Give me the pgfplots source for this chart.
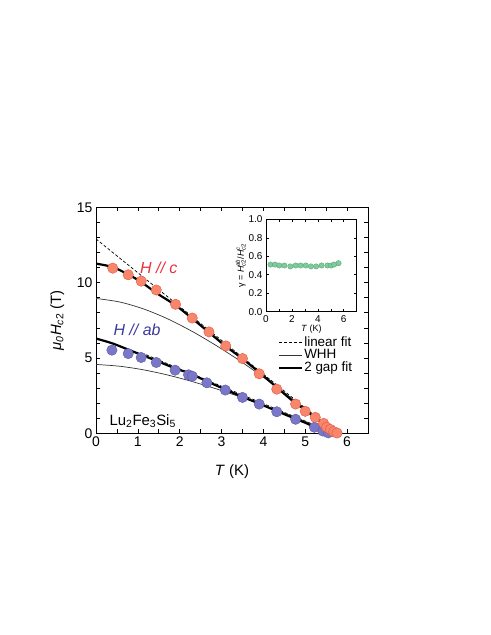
\documentclass[border=0pt]{standalone}
\usepackage{amsmath}
\usepackage{fontspec}
\setmainfont{Liberation Sans}
\usepackage{pgfplots}
\pgfplotsset{compat=1.18}

\definecolor{cfill}{HTML}{F7876C}
\definecolor{cedge}{HTML}{E5553E}
\definecolor{abfill}{HTML}{7A77C6}
\definecolor{abedge}{HTML}{5B58AC}
\definecolor{gfill}{HTML}{7FCB9B}
\definecolor{gedge}{HTML}{4E9E6C}
\definecolor{ctext}{HTML}{E8303A}
\definecolor{abtext}{HTML}{3B3A9C}

\begin{document}
\begin{tikzpicture}
\useasboundingbox (0,0) rectangle (491bp,635bp);

\begin{axis}[
  at={(96bp,201.7bp)}, anchor=south west,
  scale only axis, width=272bp, height=226bp,
  xmin=0, xmax=6.5, ymin=0, ymax=15,
  xtick={0,1,2,3,4,5,6}, minor x tick num=1,
  ytick={0,5,10,15}, minor y tick num=4,
  major tick length=4bp, minor tick length=4bp,
  every tick/.style={black, line width=0.6bp},
  axis line style={line width=0.8bp},
  tick label style={font=\fontsize{14}{16}\selectfont},
  /pgf/number format/assume math mode=true,
  xlabel={\textit{T} (K)},
  ylabel={\textit{μ}\textsubscript{\textit{0}}\textit{H}\textsubscript{\textit{c}2} (T)},
  label style={font=\fontsize{15}{17}\selectfont},
  xlabel style={yshift=-11bp},
  ylabel style={yshift=6bp},
  legend style={draw=none, fill=none, at={(0.668,0.435)}, anchor=north west,
    font=\fontsize{13.5}{16}\selectfont, inner sep=0pt, row sep=-0.5bp,
    nodes={inner sep=1.2bp}},
  legend cell align=left,
  legend image code/.code={\draw[#1] (0bp,0bp) -- (23bp,0bp);},
]
\addlegendimage{black, line width=0.7bp, dash pattern=on 3bp off 2bp}
\addlegendentry{linear fit}
\addlegendimage{black!80, line width=0.7bp}
\addlegendentry{WHH}
\addlegendimage{black, line width=2.2bp}
\addlegendentry{2 gap fit}

% linear fits
\addplot[forget plot, black, line width=0.7bp, dash pattern=on 3bp off 2bp]
  coordinates {(0,12.9) (5.75,0)};
\addplot[forget plot, black, line width=0.7bp, dash pattern=on 3bp off 2bp]
  coordinates {(1.2,5.21) (5.7,0)};

% WHH
\addplot[forget plot, black!80, line width=0.7bp, smooth] coordinates {
(0,8.95) (0.575,8.71) (1.15,8.24) (1.725,7.58) (2.3,6.76) (2.875,5.82)
(3.45,4.79) (4.025,3.67) (4.6,2.49) (5.175,1.27) (5.75,0)};
\addplot[forget plot, black!80, line width=0.7bp, smooth] coordinates {
(0,4.57) (0.57,4.45) (1.14,4.21) (1.71,3.87) (2.28,3.45) (2.85,2.97)
(3.42,2.44) (3.99,1.87) (4.56,1.27) (5.13,0.65) (5.7,0)};

% 2 gap fits
\addplot[forget plot, black, line width=2.2bp, smooth] coordinates {
(0,11.26) (0.4,11.03) (0.8,10.5) (1.1,10.0) (1.45,9.3) (1.9,8.5)
(2.3,7.62) (2.7,6.7) (3.1,5.78) (3.5,4.95) (3.9,4.05) (4.3,3.1)
(4.7,2.15) (5.0,1.55) (5.25,1.02) (5.45,0.6) (5.6,0.28) (5.72,0.08) (5.8,0)};
\addplot[forget plot, black, line width=2.2bp, smooth] coordinates {
(0,6.29) (0.4,5.96) (0.8,5.52) (1.45,4.81) (1.9,4.3) (2.25,3.97)
(2.65,3.45) (3.1,2.9) (3.5,2.42) (3.9,1.97) (4.3,1.5) (4.75,0.98)
(5.0,0.7) (5.2,0.45) (5.4,0.2) (5.52,0.05) (5.58,0)};

% data H // ab
\addplot[forget plot, only marks, mark=*, mark size=5.2bp,
  mark options={fill=abfill, draw=abedge, line width=0.4bp}] coordinates {
(0.38,5.52) (0.77,5.29) (1.08,5.03) (1.44,4.70) (1.89,4.19) (2.21,3.88)
(2.30,3.79) (2.65,3.35) (3.09,2.87) (3.50,2.38) (3.90,1.94) (4.32,1.43)
(4.77,0.93) (5.22,0.40) (5.42,0.15) (5.55,0.03)};

% data H // c
\addplot[forget plot, only marks, mark=*, mark size=5.2bp,
  mark options={fill=cfill, draw=cedge, line width=0.4bp}] coordinates {
(0.40,10.96) (0.77,10.52) (1.08,10.10) (1.44,9.51) (1.90,8.56) (2.30,7.65)
(2.70,6.73) (3.10,5.80) (3.50,4.96) (3.90,3.95) (4.32,2.93) (4.77,1.94)
(5.00,1.46) (5.24,1.06) (5.44,0.66) (5.51,0.40) (5.60,0.26) (5.68,0.11)
(5.76,0.02)};

\node[text=ctext, font=\fontsize{16}{18}\selectfont\itshape] at (axis cs:1.5,11.0) {H // c};
\node[text=abtext, font=\fontsize{16}{18}\selectfont\itshape] at (axis cs:0.98,6.84) {H // ab};
\node[anchor=west, font=\fontsize{15}{17}\selectfont] at (axis cs:0.24,0.8) {Lu\textsubscript{2}Fe\textsubscript{3}Si\textsubscript{5}};
\end{axis}

\begin{axis}[
  at={(266bp,323.3bp)}, anchor=south west,
  scale only axis, width=90.7bp, height=92.4bp,
  xmin=0, xmax=7, ymin=0, ymax=1,
  xtick={0,2,4,6}, minor xtick={1,3,5,7},
  ytick={0,0.2,0.4,0.6,0.8,1.0},
  major tick length=3bp, minor tick length=3bp,
  every tick/.style={black, line width=0.5bp},
  axis line style={line width=0.7bp},
  axis background/.style={fill=white},
  tick label style={font=\fontsize{10}{12}\selectfont},
  yticklabel style={/pgf/number format/.cd, fixed, fixed zerofill, precision=1},
  /pgf/number format/assume math mode=true,
  xlabel={\textit{T} (K)},
  ylabel={γ = \textit{H}$_{\text{\textit{c}2}}^{\text{\textit{ab}}}$/\textit{H}$_{\text{\textit{c}2}}^{\text{\textit{c}}}$},
  label style={font=\fontsize{9}{11}\selectfont},
  xlabel style={yshift=4bp},
  ylabel style={yshift=-4bp},
]
\addplot[only marks, mark=*, mark size=2.7bp,
  mark options={fill=gfill, draw=gedge, line width=0.3bp}] coordinates {
(0.35,0.51) (0.70,0.51) (1.03,0.50) (1.42,0.50) (1.88,0.49) (2.29,0.50)
(2.67,0.50) (3.07,0.50) (3.47,0.49) (3.87,0.49) (4.29,0.50) (4.74,0.50)
(5.03,0.50) (5.26,0.51) (5.60,0.525)};
\end{axis}
\end{tikzpicture}
\end{document}
